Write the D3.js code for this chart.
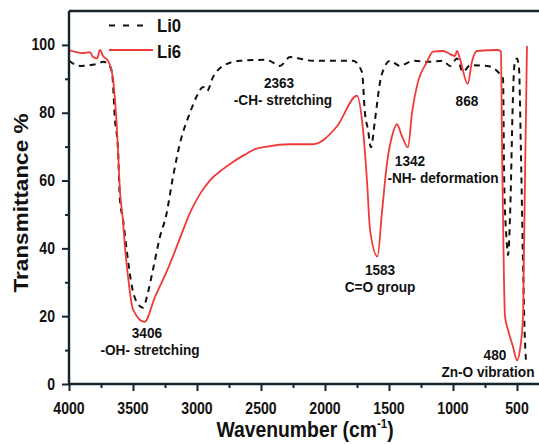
<!DOCTYPE html>
<html lang="en">
<head>
    <meta charset="UTF-8">
    <title>FTIR spectra Li0 / Li6</title>
    <script src="https://d3js.org/d3.v7.min.js"></script>
    <style>
        body { margin: 0; background: white; }
        svg text { font-family: "Liberation Sans", Arial, sans-serif; font-weight: bold; fill: #111; }
    </style>
</head>
<body>
    <div id="chart"></div>
    <script>
        // Li0 (dashed black) - wavenumber / transmittance
        var li0Wn = [4000, 3914, 3781, 3734, 3695, 3664, 3641, 3617, 3602, 3578, 3547, 3508, 3469, 3422, 3383, 3344, 3289, 3242,
            3188, 3133, 3055, 3000, 2953, 2922, 2875, 2797, 2664, 2453, 2430, 2352, 2273, 2094, 1781, 1711, 1688, 1664, 1641,
            1609, 1570, 1531, 1492, 1414, 1313, 1180, 1078, 1023, 969, 922, 867, 734, 648, 609, 600, 580, 570, 550, 535, 520,
            500, 484, 470, 455, 440, 430];
        var li0T = [95.3, 93.8, 94.4, 95, 94.4, 92, 78, 69, 54.4, 48.5, 38.8, 28.7, 24, 22.5, 27, 33.7, 43.5, 49.5,
            61, 71, 80, 85, 87.6, 86.4, 90.5, 93.8, 95.3, 95.6, 95.3, 93.8, 96.4, 95.3, 95.3, 92, 80, 75, 69.8,
            78, 89, 93.8, 95.3, 93.8, 95.3, 95, 95.3, 93.8, 96, 92, 94, 93.8, 92, 90, 60, 42, 38, 55, 80, 94,
            96, 93, 70, 40, 15, 7];

        // Li6 (red)
        var li6Wn = [4000, 3891, 3836, 3812, 3781, 3758, 3734, 3695, 3656, 3641, 3625, 3602, 3578, 3563, 3539, 3500, 3410, 3328,
            3227, 3133, 3055, 2977, 2900, 2800, 2719, 2609, 2563, 2453, 2273, 2094, 1906, 1750, 1703, 1672, 1648, 1590,
            1555, 1516, 1477, 1438, 1398, 1352, 1320, 1281, 1203, 1156, 1078, 1023, 984, 969, 945, 885, 852, 813, 648,
            625, 617, 609, 594, 570, 531, 500, 477, 453, 445, 438, 422];
        var li6T = [98.5, 97.6, 97.9, 96.4, 96, 98.5, 96.7, 95.3, 90, 84, 75, 57, 48, 40.5, 31.7, 22, 18.3, 25.7,
            34, 43, 50.5, 56, 60, 63.3, 65.5, 68, 69, 70, 70.7, 70.7, 76, 85, 75, 60, 45.5, 37.6,
            50.6, 65, 73, 76.6, 73, 69.8, 80, 88, 95, 98, 98.2, 97.3, 96.7, 98.2, 95.8, 88.5, 95, 98.2, 98.5,
            98, 70, 49, 20, 16, 11, 7, 10, 20, 40, 59, 99.7];

        var xTicks = [4000, 3500, 3000, 2500, 2000, 1500, 1000, 500];
        var xMinor = [3750, 3250, 2750, 2250, 1750, 1250, 750];
        var yTicks = [0, 20, 40, 60, 80, 100];
        var yMinor = [10, 30, 50, 70, 90];

        // peak labels: text, wavenumber and transmittance where the text sits
        var peakText = ["3406", "-OH- stretching", "2363", "-CH- stretching", "1583", "C=O group",
            "1342", "-NH- deformation", "868", "480", "Zn-O vibration"];
        var peakWn = [3391, 3367, 2359, 2328, 1570, 1570, 1336, 1078, 891, 672, 727];
        var peakT = [13.6, 8.6, 87.2, 82.2, 32.1, 27.1, 64.3, 59.3, 82, 7.1, 2.1];

        var W = 539, H = 444;
        var mLeft = 69, mRight = 539, mTop = 11, mBottom = 384;
        var sx = 0.88; // the original is squeezed horizontally

        var svg = d3.select("#chart").append("svg")
            .attr("width", W).attr("height", H);

        var x = d3.scaleLinear().domain([4000, 328]).range([mLeft, mRight]);
        var y = d3.scaleLinear().domain([0, 110]).range([mBottom, mTop]);

        function label(px, py, txt, size, anchor) {
            return svg.append("text")
                .attr("transform", "translate(" + px + "," + py + ") scale(" + sx + ",1)")
                .attr("text-anchor", anchor || "middle")
                .style("font-size", size + "px")
                .text(txt);
        }

        svg.append("clipPath").attr("id", "plot")
            .append("rect").attr("x", mLeft).attr("y", mTop)
            .attr("width", mRight - mLeft).attr("height", mBottom - mTop);

        var line = d3.line()
            .x(function(d) { return x(d[0]); })
            .y(function(d) { return y(d[1]); })
            .curve(d3.curveMonotoneX);

        var li0 = li0Wn.map(function(w, i) { return [w, li0T[i]]; });
        var li6 = li6Wn.map(function(w, i) { return [w, li6T[i]]; });

        svg.append("path").datum(li0)
            .attr("clip-path", "url(#plot)")
            .attr("d", line)
            .attr("fill", "none")
            .attr("stroke", "#111")
            .attr("stroke-width", 2)
            .attr("stroke-dasharray", "6,5");

        svg.append("path").datum(li6)
            .attr("clip-path", "url(#plot)")
            .attr("d", line)
            .attr("fill", "none")
            .attr("stroke", "#f03a3a")
            .attr("stroke-width", 1.8);

        // axes
        var axisColor = "#15232b";
        var xAxis = svg.append("g").attr("transform", "translate(0," + mBottom + ")")
            .call(d3.axisBottom(x).tickValues(xTicks).tickSize(7).tickFormat(""));
        svg.append("g").attr("transform", "translate(0," + mBottom + ")")
            .call(d3.axisBottom(x).tickValues(xMinor).tickSize(4).tickFormat(""))
            .select(".domain").remove();
        var yAxis = svg.append("g").attr("transform", "translate(" + mLeft + ",0)")
            .call(d3.axisLeft(y).tickValues(yTicks).tickSize(7).tickFormat(""));
        svg.append("g").attr("transform", "translate(" + mLeft + ",0)")
            .call(d3.axisLeft(y).tickValues(yMinor).tickSize(4).tickFormat(""))
            .select(".domain").remove();
        svg.selectAll(".tick text").remove();
        svg.selectAll(".domain").attr("stroke", axisColor).attr("stroke-width", 2.4);
        svg.selectAll(".tick line").attr("stroke", axisColor).attr("stroke-width", 2);
        xAxis.select(".domain").attr("d", "M" + mLeft + ",0H" + mRight);
        yAxis.select(".domain").attr("d", "M0," + (mBottom + 1) + "V" + mTop);

        svg.append("line")
            .attr("x1", mLeft).attr("x2", mRight).attr("y1", mTop).attr("y2", mTop)
            .attr("stroke", axisColor).attr("stroke-width", 2.4);

        xTicks.forEach(function(t) { label(x(t), 414, t, 16); });
        yTicks.forEach(function(t) { label(55, y(t) + 5.5, t, 16, "end"); });

        var xTitle = label(305, 437, "Wavenumber (cm", 22);
        xTitle.append("tspan").text("-1").attr("dy", -9).style("font-size", "13px");
        xTitle.append("tspan").text(")").attr("dy", 9);

        svg.append("text")
            .attr("transform", "translate(28,203) rotate(-90) scale(1," + sx + ")")
            .attr("text-anchor", "middle")
            .style("font-size", "22.5px")
            .text("Transmittance %");

        // legend
        svg.append("line").attr("x1", 109).attr("x2", 148).attr("y1", 25.5).attr("y2", 25.5)
            .attr("stroke", "#111").attr("stroke-width", 2).attr("stroke-dasharray", "6,8");
        svg.append("line").attr("x1", 109).attr("x2", 153).attr("y1", 50).attr("y2", 50)
            .attr("stroke", "#f03a3a").attr("stroke-width", 1.8);
        label(157, 32, "Li0", 19, "start");
        label(157, 58, "Li6", 19, "start");

        peakText.forEach(function(t, i) {
            label(x(peakWn[i]), y(peakT[i]), t, 15.5);
        });
    </script>
</body>
</html>
